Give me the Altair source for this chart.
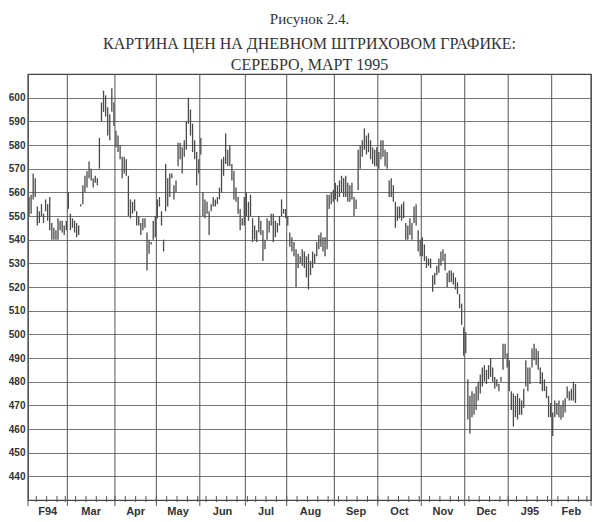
import altair as alt
import pandas as pd

# ---------------- data ----------------
MONTHS = ["F94", "Mar", "Apr", "May", "Jun", "Jul", "Aug", "Sep", "Oct", "Nov", "Dec", "J95", "Feb"]

feb94_high = [558, 559, 568, 566, 554, 552, 555, 551, 557, 555, 558, 547, 545, 544, 549, 548, 548, 546, 548]
feb94_low = [550, 551, 557, 558, 546, 547, 550, 547, 552, 548, 544, 540, 540, 540, 540, 544, 543, 542, 544]

mar94_high = [560, 551, 549, 548, 547, 546, 555, 563, 567, 569, 573, 570, 566, 567, 566, 583, 598, 603, 601, 596, 593, 604, 598]
mar94_low = [553, 544, 545, 543, 541, 542, 554, 555, 560, 562, 566, 565, 562, 564, 563, 570, 590, 594, 592, 584, 582, 594, 588]

apr94_high = [586, 584, 580, 575, 575, 574, 567, 557, 556, 557, 552, 550, 547, 549, 549, 543, 540, 539, 548, 550]
apr94_low = [579, 577, 574, 566, 568, 567, 550, 549, 551, 552, 546, 546, 542, 544, 545, 527, 534, 538, 540, 541]

may94_high = [557, 558, 552, 540, 572, 566, 568, 568, 563, 565, 581, 581, 579, 582, 590, 600, 595, 589, 582, 577, 574]
may94_low = [549, 554, 546, 535, 552, 554, 558, 566, 557, 560, 571, 574, 568, 575, 578, 589, 584, 577, 574, 563, 568]

jun94_high = [583, 560, 557, 556, 552, 555, 558, 557, 558, 562, 574, 575, 585, 578, 580, 572, 569, 562, 558, 553, 549, 558]
jun94_low = [576, 550, 549, 551, 542, 552, 554, 554, 555, 557, 560, 567, 572, 571, 571, 565, 557, 556, 551, 544, 546, 546]

jul94_high = [560, 556, 559, 549, 546, 544, 550, 548, 544, 540, 549, 548, 551, 551, 548, 547, 550, 557, 553, 553]
jul94_low = [550, 548, 550, 539, 540, 539, 543, 542, 531, 536, 540, 543, 546, 539, 541, 543, 546, 550, 551, 549]

aug94_high = [550, 543, 541, 539, 536, 534, 533, 536, 535, 533, 534, 531, 535, 534, 539, 542, 543, 541, 541, 559, 559, 560, 561]
aug94_low = [546, 537, 535, 533, 520, 528, 530, 529, 528, 524, 519, 525, 528, 530, 533, 536, 537, 535, 533, 536, 553, 555, 556]

sep94_high = [564, 563, 565, 567, 566, 567, 564, 563, 564, 558, 557, 578, 580, 582, 587, 584, 585, 582, 579, 578, 579]
sep94_low = [557, 556, 558, 560, 558, 558, 556, 556, 557, 550, 553, 561, 570, 575, 578, 576, 577, 574, 572, 571, 571]

oct94_high = [577, 582, 582, 578, 577, 565, 566, 563, 556, 554, 554, 555, 556, 547, 546, 549, 547, 554, 555, 544, 540]
oct94_low = [570, 574, 575, 571, 570, 558, 558, 556, 545, 548, 549, 548, 549, 540, 540, 542, 540, 547, 546, 535, 533]

nov94_high = [541, 538, 533, 532, 532, 525, 526, 529, 532, 535, 536, 534, 526, 527, 527, 526, 524, 522, 517, 513, 503]
nov94_low = [533, 531, 528, 529, 528, 518, 521, 525, 526, 529, 531, 527, 520, 522, 522, 521, 519, 517, 511, 504, 491]

dec94_high = [501, 481, 474, 476, 475, 478, 480, 483, 486, 487, 485, 487, 490, 486, 482, 481, 479, 482, 496, 496, 492]
dec94_low = [492, 464, 458, 465, 466, 468, 472, 475, 478, 480, 479, 481, 482, 480, 477, 478, 476, 480, 485, 490, 486]

jan95_high = [489, 476, 475, 474, 475, 473, 472, 477, 489, 486, 486, 494, 496, 494, 493, 486, 484, 481, 478, 474, 471]
jan95_low = [476, 468, 461, 465, 464, 466, 466, 469, 478, 476, 479, 486, 489, 487, 485, 479, 476, 476, 473, 465, 465]

feb95_high = [467, 472, 471, 472, 470, 472, 473, 478, 476, 477, 480, 479]
feb95_low = [457, 465, 466, 465, 464, 465, 467, 473, 472, 472, 472, 471]

HOLIDAYS = ["1994-02-21", "1994-04-01", "1994-05-30", "1994-07-04", "1994-09-05",
            "1994-11-24", "1994-12-26", "1995-01-02", "1995-02-20"]

Y_TICKS = list(range(440, 601, 10))

# ---------------- build tables ----------------
highs = (feb94_high + mar94_high + apr94_high + may94_high + jun94_high + jul94_high +
         aug94_high + sep94_high + oct94_high + nov94_high + dec94_high + jan95_high + feb95_high)
lows = (feb94_low + mar94_low + apr94_low + may94_low + jun94_low + jul94_low +
        aug94_low + sep94_low + oct94_low + nov94_low + dec94_low + jan95_low + feb95_low)

days = pd.bdate_range("1994-02-01", "1995-02-28")
days = days[~days.isin(pd.to_datetime(HOLIDAYS))]
n_days = len(days)

bars = pd.DataFrame({"t": list(range(len(highs))), "high": highs, "low": lows})

month_start = [i for i in range(n_days) if i == 0 or days[i].month != days[i - 1].month]
bounds = [s - 0.5 for s in month_start] + [n_days - 0.5]
mids = [(bounds[i] + bounds[i + 1]) / 2 for i in range(len(MONTHS))]
week_ticks = [i - 0.5 for i in range(1, n_days) if days[i].weekday() < days[i - 1].weekday()]

bounds_df = pd.DataFrame({"b": bounds})
labels_df = pd.DataFrame({"mid": mids, "name": MONTHS})
weeks_df = pd.DataFrame({"w": week_ticks})

W, H = 563, 426
xscale = alt.Scale(domain=[-0.5, n_days - 0.5], nice=False, zero=False)
yscale = alt.Scale(domain=[430, 610], nice=False, zero=False)
INK = "#4a4a4a"

price = alt.Chart(bars).mark_rule(color=INK, strokeWidth=1.3).encode(
    x=alt.X("t:Q", scale=xscale, axis=None),
    y=alt.Y("low:Q", scale=yscale,
            axis=alt.Axis(values=Y_TICKS, grid=True, ticks=False, domain=False, title=None,
                          labelFont="Liberation Sans", labelFontWeight="bold", labelFontSize=10,
                          labelColor="#333", labelPadding=3, gridColor="#777", gridWidth=1)),
    y2="high:Q",
)

month_rules = alt.Chart(bounds_df).mark_rule(color="#555", strokeWidth=1).encode(
    x=alt.X("b:Q", scale=xscale, axis=None),
    y=alt.value(0),
    y2=alt.value(H + 6),
)

week_marks = alt.Chart(weeks_df).mark_rule(color="#555", strokeWidth=1).encode(
    x=alt.X("w:Q", scale=xscale, axis=None),
    y=alt.value(H - 4),
    y2=alt.value(H + 2),
)

month_text = alt.Chart(labels_df).mark_text(
    font="Liberation Sans", fontWeight="bold", fontSize=11, color="#333", baseline="middle"
).encode(
    x=alt.X("mid:Q", scale=xscale, axis=None),
    y=alt.value(H + 12),
    text="name:N",
)

chart = alt.layer(price, month_rules, week_marks, month_text).properties(
    width=W,
    height=H,
    autosize=alt.AutoSizeParams(type="none"),
    padding={"left": 20, "top": 66, "right": 1, "bottom": 20},
    title=alt.TitleParams(
        text="Рисунок 2.4.",
        subtitle=["КАРТИНА ЦЕН НА ДНЕВНОМ ШТРИХОВОМ ГРАФИКЕ:", "СЕРЕБРО, МАРТ 1995"],
        font="Liberation Serif", fontSize=15, fontWeight="normal", color="#333",
        subtitleFont="Liberation Serif", subtitleFontSize=16, subtitleColor="#333",
        subtitlePadding=9, subtitleLineHeight=21,
        anchor="middle", frame="group", offset=1,
    ),
).configure_view(stroke="#444", strokeWidth=1.2)

chart.save("out.html", embed_options={"renderer": "svg", "actions": False})
